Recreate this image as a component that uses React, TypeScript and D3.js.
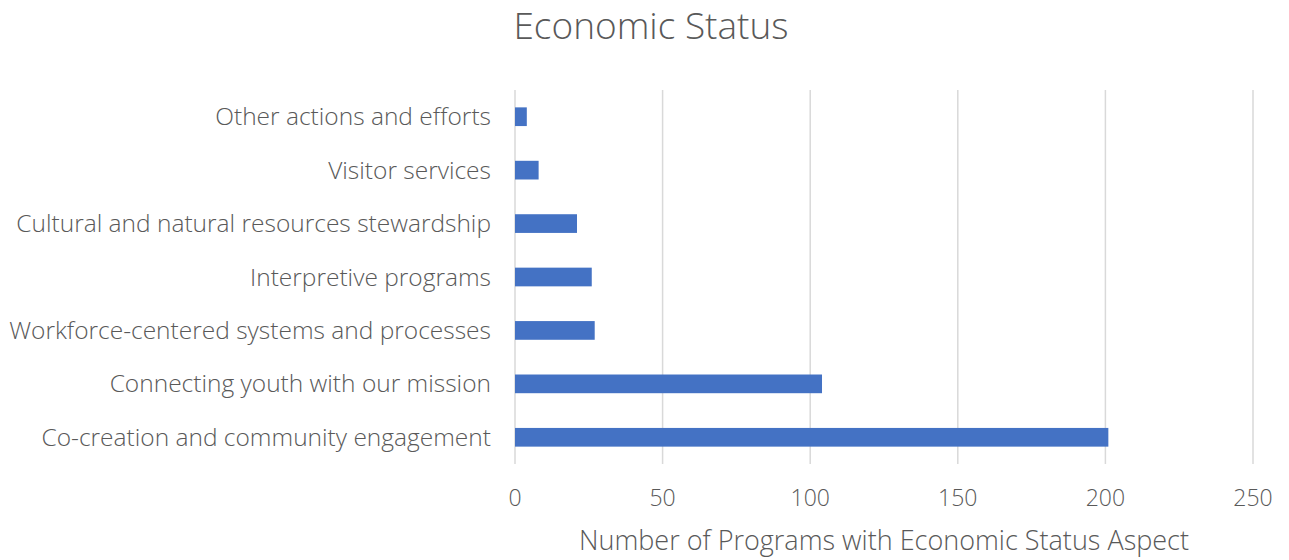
import React, { useEffect, useRef } from 'react';
import * as d3 from 'd3';

const categories = [
  'Other actions and efforts',
  'Visitor services',
  'Cultural and natural resources stewardship',
  'Interpretive programs',
  'Workforce-centered systems and processes',
  'Connecting youth with our mission',
  'Co-creation and community engagement',
];
const values = [4, 8, 21, 26, 27, 104, 201];
const xTicks = [0, 50, 100, 150, 200, 250];

const chartTitle = 'Economic Status';
const xTitle = 'Number of Programs with Economic Status Aspect';

const WIDTH = 1289;
const HEIGHT = 560;
const margin = { top: 90, right: 36, bottom: 96, left: 515 };
const FONT = '"Open Sans", Lato, sans-serif';
const TEXT = '#595959';

export default function App() {
  const svgRef = useRef<SVGSVGElement>(null);

  useEffect(() => {
    if (!svgRef.current) return;
    const svg = d3.select(svgRef.current);
    svg.selectAll('*').remove();

    const innerW = WIDTH - margin.left - margin.right;
    const innerH = HEIGHT - margin.top - margin.bottom;

    const x = d3.scaleLinear().domain([0, 250]).range([0, innerW]);
    const y = d3.scaleBand().domain(categories).range([0, innerH]).paddingInner(0.65).paddingOuter(0.325);

    const g = svg.append('g').attr('transform', `translate(${margin.left},${margin.top})`);

    // gridlines
    g.selectAll('.grid')
      .data(xTicks)
      .enter()
      .append('line')
      .attr('x1', d => x(d))
      .attr('x2', d => x(d))
      .attr('y1', 0)
      .attr('y2', innerH)
      .attr('stroke', '#d9d9d9')
      .attr('stroke-width', 1.5);

    // bars
    g.selectAll('.bar')
      .data(values)
      .enter()
      .append('rect')
      .attr('x', x(0))
      .attr('y', (d, i) => y(categories[i]) || 0)
      .attr('width', d => x(d) - x(0))
      .attr('height', y.bandwidth())
      .attr('fill', '#4472c4');

    // category labels
    g.selectAll('.cat')
      .data(categories)
      .enter()
      .append('text')
      .attr('x', -24)
      .attr('y', d => (y(d) || 0) + y.bandwidth() / 2)
      .attr('dy', '0.35em')
      .attr('text-anchor', 'end')
      .style('font-family', FONT)
      .style('font-size', '24.5px')
      .style('font-weight', 300)
      .style('fill', TEXT)
      .text(d => d);

    // tick labels
    g.selectAll('.tick-label')
      .data(xTicks)
      .enter()
      .append('text')
      .attr('x', d => x(d))
      .attr('y', innerH + 34)
      .attr('dy', '0.35em')
      .attr('text-anchor', 'middle')
      .style('font-family', FONT)
      .style('font-size', '23px')
      .style('font-weight', 300)
      .style('fill', TEXT)
      .text(d => d.toString());

    // axis title
    svg.append('text')
      .attr('x', 884)
      .attr('y', 541)
      .attr('dy', '0.35em')
      .attr('text-anchor', 'middle')
      .style('font-family', FONT)
      .style('font-size', '27px')
      .style('font-weight', 300)
      .style('fill', TEXT)
      .text(xTitle);

    // title
    svg.append('text')
      .attr('x', 651)
      .attr('y', 26)
      .attr('dy', '0.35em')
      .attr('text-anchor', 'middle')
      .style('font-family', FONT)
      .style('font-size', '37px')
      .style('font-weight', 300)
      .style('fill', TEXT)
      .text(chartTitle);
  }, []);

  return (
    <div style={{ position: 'absolute', left: 0, top: 0 }}>
      <svg ref={svgRef} width={WIDTH} height={HEIGHT} style={{ display: 'block', background: '#fff' }} />
    </div>
  );
}
